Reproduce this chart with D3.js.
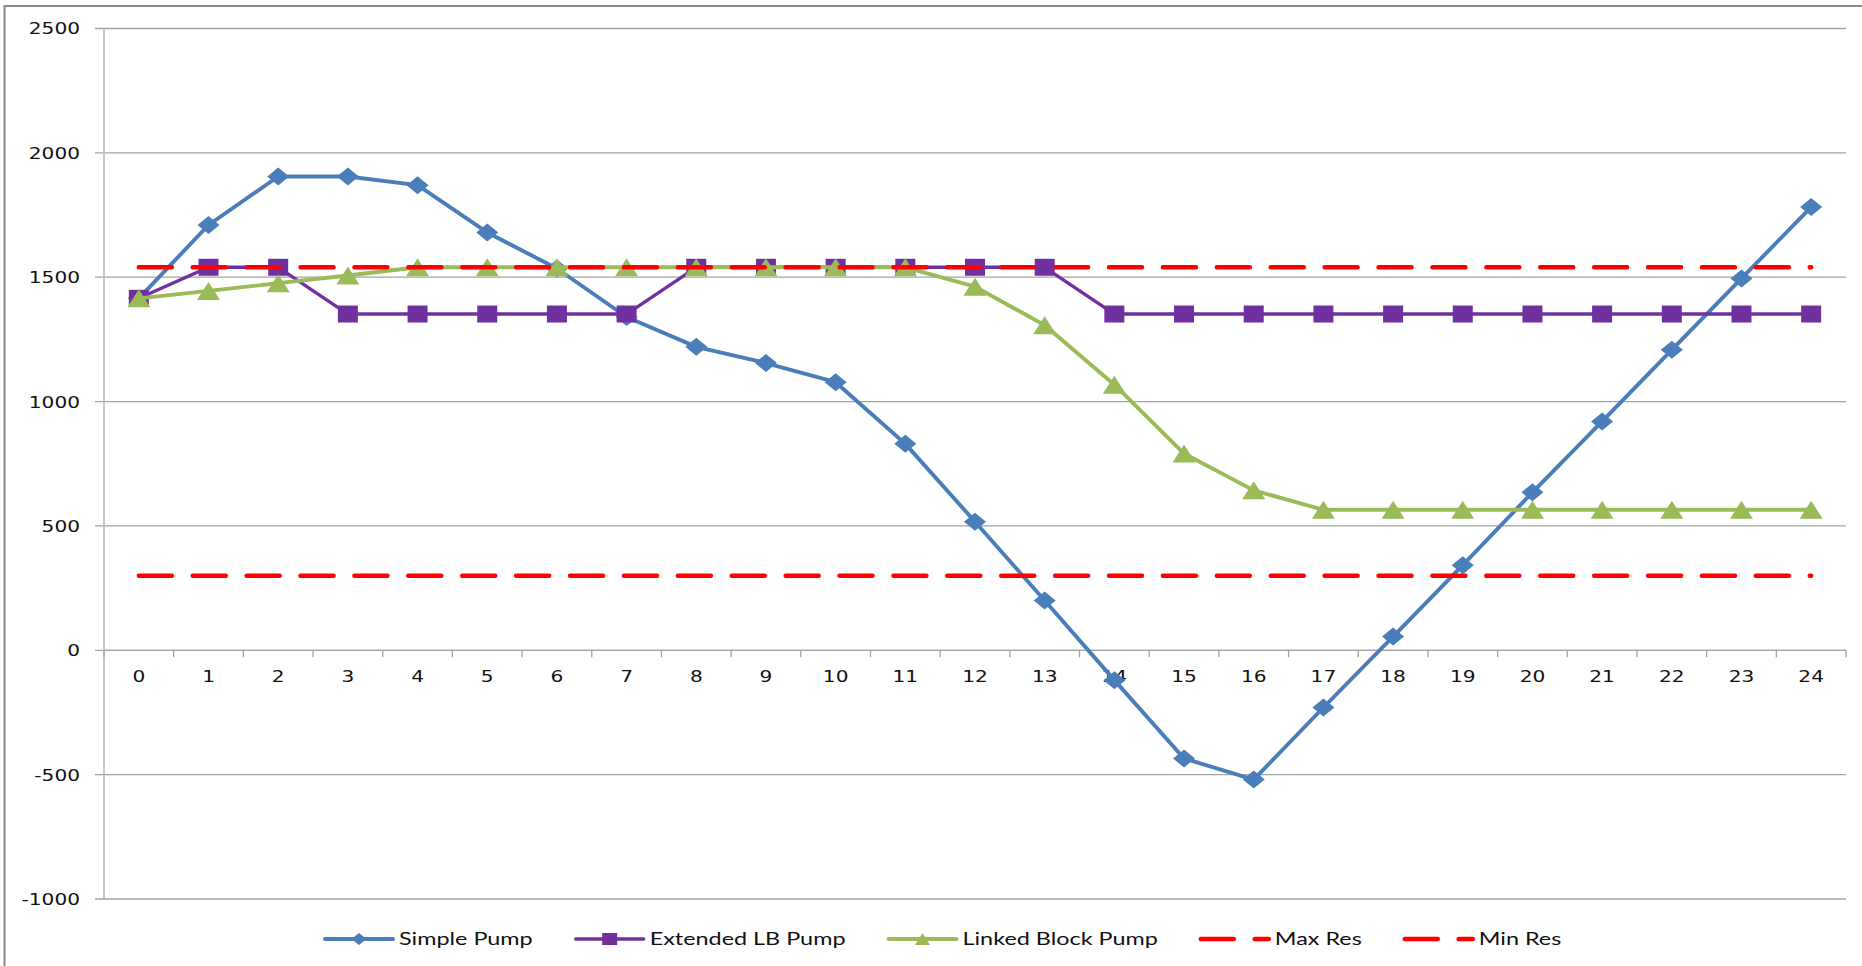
<!DOCTYPE html>
<html>
<head>
<meta charset="utf-8">
<script src="https://cdn.jsdelivr.net/npm/d3@7"></script>
<style>
  html, body { margin: 0; padding: 0; background: #fff; }
  svg { display: block; }
</style>
</head>
<body>
<svg id="chart" width="1862" height="966"></svg>
<script>
// Reservoir level by hour for three pump scheduling strategies
const hours = ["0","1","2","3","4","5","6","7","8","9","10","11","12",
               "13","14","15","16","17","18","19","20","21","22","23","24"];

const simplePump = [1415, 1710, 1905, 1905, 1870, 1680, 1535, 1340, 1220, 1155, 1078, 830, 517,
                    200, -120, -435, -520, -230, 55, 342, 635, 920, 1208, 1495, 1782];
const extendedLBPump = [1415, 1540, 1540, 1352, 1352, 1352, 1352, 1352, 1540, 1540, 1540, 1540, 1540,
                        1540, 1352, 1352, 1352, 1352, 1352, 1352, 1352, 1352, 1352, 1352, 1352];
const linkedBlockPump = [1415, 1445, 1476, 1507, 1540, 1540, 1540, 1540, 1540, 1540, 1540, 1540, 1462,
                         1307, 1068, 791, 643, 565, 565, 565, 565, 565, 565, 565, 565];
const maxRes = hours.map(() => 1540);
const minRes = hours.map(() => 300);

const yTicks = [-1000, -500, 0, 500, 1000, 1500, 2000, 2500];

const DASH = "33,20.9";
const series = [
  { name: "Simple Pump",       values: simplePump,      color: "#4A7EBB", marker: "diamond",  width: 3.9 },
  { name: "Extended LB Pump",  values: extendedLBPump,  color: "#7030A0", marker: "square",   width: 3.3 },
  { name: "Linked Block Pump", values: linkedBlockPump, color: "#9BBB59", marker: "triangle", width: 3.9 },
  { name: "Max Res",           values: maxRes,          color: "#FF0000", marker: null,       width: 4.5, dashed: true },
  { name: "Min Res",           values: minRes,          color: "#FF0000", marker: null,       width: 4.5, dashed: true }
];

const svg = d3.select("#chart");
const plot = { left: 104, right: 1846, top: 28.5, bottom: 899 };

const x = d3.scaleBand().domain(hours).range([plot.left, plot.right]).paddingInner(0).paddingOuter(0);
const y = d3.scaleLinear().domain([-1000, 2500]).range([plot.bottom, plot.top]);
const cx = h => x(h) + x.bandwidth() / 2;

const AXIS_FONT = "'DejaVu Sans', Verdana, sans-serif";
const LEGEND_FONT = "Lato, 'Open Sans', sans-serif";
const TEXT_STRETCH = 1.22;

// Outer frame (left and top edges)
svg.append("path")
  .attr("d", "M4.5,966 L4.5,6 L1862,6")
  .attr("fill", "none").attr("stroke", "#8a8a8a").attr("stroke-width", 2);

// Horizontal gridlines with left tick marks
const grid = svg.append("g");
grid.selectAll("line").data(yTicks).join("line")
  .attr("x1", plot.left - 9).attr("x2", plot.right)
  .attr("y1", d => y(d)).attr("y2", d => y(d))
  .attr("stroke", "#a3a3a3").attr("stroke-width", 1.3);

// Vertical value axis
svg.append("line")
  .attr("x1", plot.left).attr("x2", plot.left)
  .attr("y1", plot.top).attr("y2", plot.bottom)
  .attr("stroke", "#b5b5b5").attr("stroke-width", 1.5);

// Value axis labels
svg.append("g").selectAll("text").data(yTicks).join("text")
  .attr("transform", d => `translate(80,${y(d)}) scale(${TEXT_STRETCH},1)`)
  .attr("text-anchor", "end").attr("dy", "0.36em")
  .attr("font-family", AXIS_FONT).attr("font-size", 16.5).attr("fill", "#111")
  .text(d => d);

// Category axis along the zero line
const y0 = y(0);
svg.append("line")
  .attr("x1", plot.left).attr("x2", plot.right)
  .attr("y1", y0).attr("y2", y0)
  .attr("stroke", "#a3a3a3").attr("stroke-width", 1.3);

const boundaries = hours.map(h => x(h)).concat([plot.right]);
svg.append("g").selectAll("line").data(boundaries).join("line")
  .attr("x1", d => d).attr("x2", d => d)
  .attr("y1", y0).attr("y2", y0 + 7)
  .attr("stroke", "#a3a3a3").attr("stroke-width", 1.3);

svg.append("g").selectAll("text").data(hours).join("text")
  .attr("transform", d => `translate(${cx(d)},${y0 + 32}) scale(${TEXT_STRETCH},1)`)
  .attr("text-anchor", "middle")
  .attr("font-family", AXIS_FONT).attr("font-size", 16.5).attr("fill", "#111")
  .text(d => d);

// Marker shapes (w × h box centred on the point)
function markerPath(type, w, h) {
  const a = w / 2, b = h / 2;
  if (type === "diamond") return `M0,${-b} L${a},0 L0,${b} L${-a},0 Z`;
  if (type === "square") return `M${-a},${-b} H${a} V${b} H${-a} Z`;
  if (type === "triangle") return `M0,${-b} L${a},${b} L${-a},${b} Z`;
  return "";
}
const markerSize = { diamond: [22, 18], square: [20, 17], triangle: [23, 18] };

const line = d3.line().x(d => cx(d.h)).y(d => y(d.v));

series.forEach(s => {
  const pts = s.values.map((v, i) => ({ h: hours[i], v }));
  const g = svg.append("g");
  g.append("path")
    .attr("d", line(pts))
    .attr("fill", "none")
    .attr("stroke", s.color)
    .attr("stroke-width", s.width)
    .attr("stroke-linejoin", "round")
    .attr("stroke-linecap", "round")
    .attr("stroke-dasharray", s.dashed ? DASH : null);
  if (s.marker) {
    const [w, h] = markerSize[s.marker];
    g.selectAll("path.m").data(pts).join("path")
      .attr("class", "m")
      .attr("transform", d => `translate(${cx(d.h)},${y(d.v)})`)
      .attr("d", markerPath(s.marker, w, h))
      .attr("fill", s.color);
  }
});

// Legend
const legendY = 939;
let lx = 325;
const legend = svg.append("g");
series.forEach(s => {
  const item = legend.append("g");
  item.append("line")
    .attr("x1", lx).attr("x2", lx + 68)
    .attr("y1", legendY).attr("y2", legendY)
    .attr("stroke", s.color).attr("stroke-width", s.width)
    .attr("stroke-linecap", "round")
    .attr("stroke-dasharray", s.dashed ? DASH : null);
  if (s.marker) {
    item.append("path")
      .attr("transform", `translate(${lx + 34},${legendY})`)
      .attr("d", markerPath(s.marker, 15, 12))
      .attr("fill", s.color);
  }
  const tx = lx + 74;
  const t = item.append("text")
    .attr("transform", `translate(${tx},${legendY}) scale(1.3,1)`)
    .attr("dy", "0.36em")
    .attr("font-family", LEGEND_FONT).attr("font-size", 18).attr("fill", "#111")
    .text(s.name);
  lx = tx + t.node().getComputedTextLength() * 1.3 + 43;
});
</script>
</body>
</html>
